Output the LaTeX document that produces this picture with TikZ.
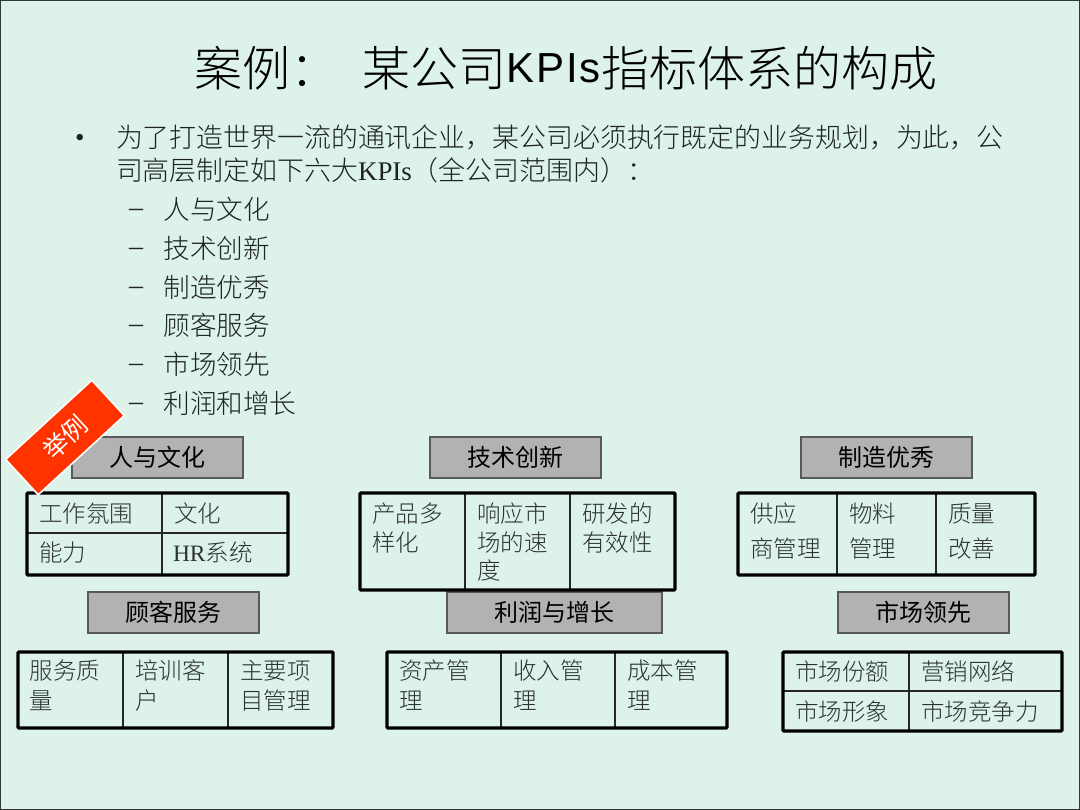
\documentclass[tikz,border=0pt]{standalone}
\usepackage{fontspec}
\setmainfont{Noto Sans CJK SC Light}
\newfontfamily\serifl{Liberation Serif}
\newfontfamily\sansl[LetterSpace=5]{Liberation Sans}
\newfontfamily\headf{Noto Sans CJK SC}
\definecolor{bgc}{HTML}{DDF2E9}
\definecolor{edgec}{HTML}{2F3A36}
\definecolor{headc}{HTML}{B2B2B2}
\definecolor{badgec}{HTML}{FF3300}
\definecolor{txtc}{HTML}{1E2421}
\definecolor{celltc}{HTML}{2C322F}
\newcommand{\fs}[2]{\fontsize{#1}{#2}\selectfont}
\tikzset{
  txt/.style={anchor=west,inner sep=0pt,outer sep=0pt,text=txtc},
  titletxt/.style={txt,text=black,font=\fs{48}{54}},
  bodytxt/.style={txt,font=\fs{26.9}{33}},
  listtxt/.style={txt,font=\fs{26.6}{33}},
  dashtxt/.style={txt,font=\serifl\fs{28}{33}},
  cell/.style={anchor=north west,inner sep=0pt,outer sep=0pt,align=left,text=celltc,font=\fs{23.5}{28.5}},
  head/.style={draw=black!65,line width=1.2pt,fill=headc,inner sep=0pt,text=black,font=\headf\fs{24}{28},minimum height=41pt},
  frame/.style={draw=black,line width=3.4pt,rounded corners=1pt},
  inner/.style={draw=black!85,line width=1.6pt},
  badge/.style={draw=white,line width=1.6pt,fill=badgec,text=white,rotate=42.6,minimum width=117pt,minimum height=48pt,inner sep=0pt,font=\headf\fs{25}{28}}
}
\begin{document}
\begin{tikzpicture}[x=1pt,y=-1pt]
\useasboundingbox (0,0) rectangle (1080,810);
\draw[fill=bgc,draw=edgec,line width=1.5pt] (0,0) rectangle (1080,810);
% title
\node[titletxt] (t1) at (194,68) {案例：};
\node[titletxt] (t2) at (362,68) {某公司};
\node[txt,text=black,font=\sansl\fs{42}{54}] (t3) at (506,68) {KPIs};
\node[titletxt] (t4) at (601,68) {指标体系的构成};
% body
\node[txt,font=\serifl\fs{27}{33}] (bul) at (75,140) {•};
\node[bodytxt] (b1) at (116,137) {为了打造世界一流的通讯企业，某公司必须执行既定的业务规划，为此，公};
\node[bodytxt] (b2) at (116,170) {司高层制定如下六大{\serifl KPIs}（全公司范围内）：};
\foreach \i/\y/\s in {1/209/人与文化,2/248/技术创新,3/287/制造优秀,4/325/顾客服务,5/364/市场领先,6/403/利润和增长}{
  \node[dashtxt] (d\i) at (129,\y+4) {–};
  \node[listtxt] (l\i) at (163.5,\y) {\s};
}
% headers
\node[head,minimum width=171pt] (h1) at (157.5,457.5) {人与文化};
\node[head,minimum width=171pt] (h2) at (515.5,457.5) {技术创新};
\node[head,minimum width=171pt] (h3) at (886.5,457.5) {制造优秀};
\node[head,minimum width=171pt] (h4) at (173.5,612.5) {顾客服务};
\node[head,minimum width=215pt] (h5) at (554.5,612.5) {利润与增长};
\node[head,minimum width=171pt] (h6) at (923.5,612.5) {市场领先};
% table 1
\draw[inner] (162,493) -- (162,575) (27,533) -- (288,533);
\draw[frame] (27,493) rectangle (288,575);
\node[cell] (c11) at (39,503) {工作氛围};
\node[cell] (c12) at (174,503) {文化};
\node[cell] (c13) at (39,542) {能力};
\node[cell] (c14) at (173,542) {{\serifl HR}系统};
% table 2
\draw[inner] (465,493) -- (465,590) (570,493) -- (570,590);
\draw[frame] (360,493) rectangle (675,590);
\node[cell] (c21) at (372,503) {产品多\\样化};
\node[cell] (c22) at (477,503) {响应市\\场的速\\度};
\node[cell] (c23) at (582,503) {研发的\\有效性};
% table 3
\draw[inner] (837,493) -- (837,575) (936,493) -- (936,575);
\draw[frame] (738,493) rectangle (1035,575);
\node[cell,font=\fs{23.5}{35}] (c31) at (750,503) {供应\\商管理};
\node[cell,font=\fs{23.5}{35}] (c32) at (849,503) {物料\\管理};
\node[cell,font=\fs{23.5}{35}] (c33) at (948,503) {质量\\改善};
% table 4
\draw[inner] (123,652) -- (123,728) (228,652) -- (228,728);
\draw[frame] (18,652) rectangle (333,728);
\node[cell,font=\fs{23.5}{30}] (c41) at (30,660) {服务质\\量};
\node[cell,font=\fs{23.5}{30}] (c42) at (135,660) {培训客\\户};
\node[cell,font=\fs{23.5}{30}] (c43) at (240,660) {主要项\\目管理};
% table 5
\draw[inner] (501,652) -- (501,728) (615,652) -- (615,728);
\draw[frame] (387,652) rectangle (727,728);
\node[cell,font=\fs{23.5}{30}] (c51) at (399,660) {资产管\\理};
\node[cell,font=\fs{23.5}{30}] (c52) at (513,660) {收入管\\理};
\node[cell,font=\fs{23.5}{30}] (c53) at (627,660) {成本管\\理};
% table 6
\draw[inner] (909,652) -- (909,731) (783,691) -- (1062,691);
\draw[frame] (783,652) rectangle (1062,731);
\node[cell] (c61) at (795,661) {市场份额};
\node[cell] (c62) at (921,661) {营销网络};
\node[cell] (c63) at (795,701) {市场形象};
\node[cell] (c64) at (921,701) {市场竞争力};
% badge
\node[badge] (bd) at (65,437.5) {举例};
\end{tikzpicture}
\end{document}
